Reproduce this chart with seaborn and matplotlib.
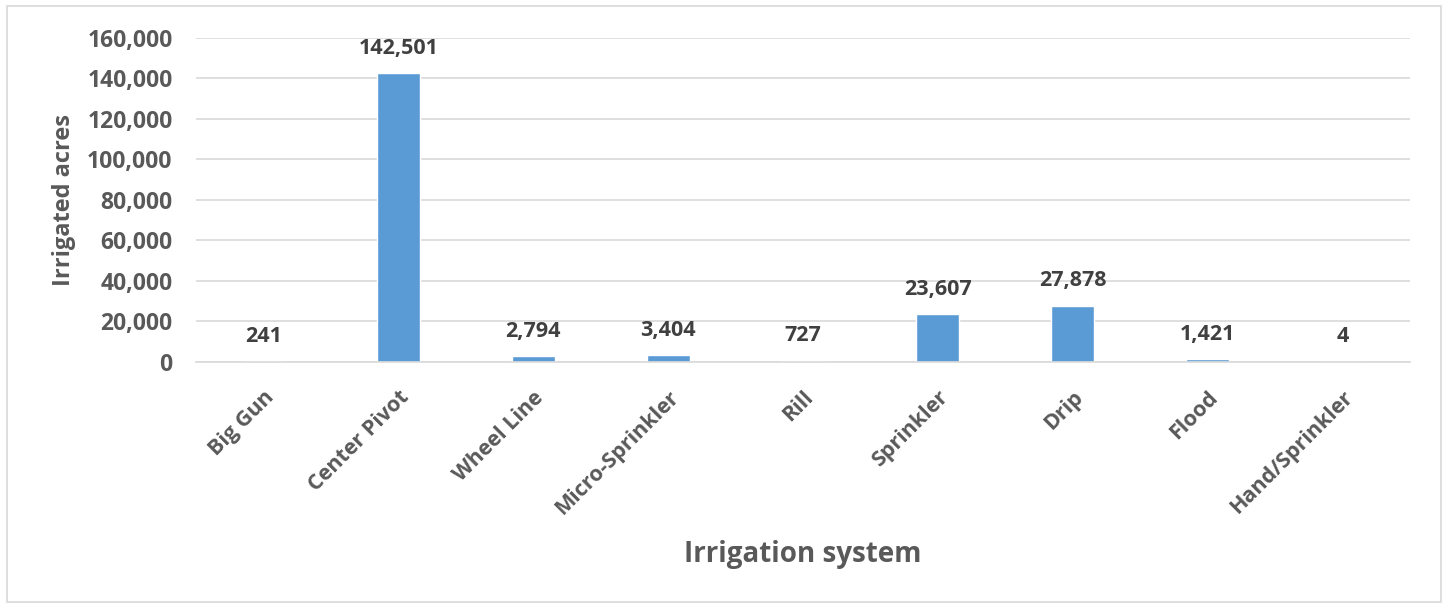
import matplotlib
matplotlib.use("Agg")
import matplotlib.pyplot as plt
import matplotlib.ticker as mticker
from matplotlib.patches import Rectangle
import seaborn as sns
import pandas as pd

systems = ["Big Gun", "Center Pivot", "Wheel Line", "Micro-Sprinkler", "Rill",
           "Sprinkler", "Drip", "Flood", "Hand/Sprinkler"]
acres = [241, 142501, 2794, 3404, 727, 23607, 27878, 1421, 4]

df = pd.DataFrame({"system": systems, "acres": acres})

sns.set_theme(style="white")
plt.rcParams["font.family"] = ["Open Sans", "DejaVu Sans"]
text_color = "#595959"

fig = plt.figure(figsize=(14.49, 6.04), dpi=100)
ax = fig.add_axes([0.1353, 0.4007, 0.8377, 0.5364])

sns.barplot(data=df, x="system", y="acres", color="#5b9bd5", saturation=1,
            width=0.32, ax=ax)

ax.set_ylim(0, 160000)
ax.set_xlim(-0.5, len(systems) - 0.5)
ax.yaxis.set_major_locator(mticker.MultipleLocator(20000))
ax.yaxis.set_major_formatter(mticker.FuncFormatter(lambda v, p: f"{int(v):,}"))
ax.grid(axis="y", color="#d9d9d9", linewidth=1.2)
ax.set_axisbelow(True)

for side in ["left", "right", "top"]:
    ax.spines[side].set_visible(False)
ax.spines["bottom"].set_color("#d9d9d9")
ax.spines["bottom"].set_linewidth(1.2)

ax.tick_params(axis="both", length=0)
ax.tick_params(axis="y", labelsize=16.5, labelcolor=text_color, pad=17)
for lbl in ax.get_yticklabels():
    lbl.set_fontweight("bold")

ax.set_xticks(range(len(systems)))
ax.set_xticklabels(systems, rotation=45, ha="right", rotation_mode="anchor",
                   fontsize=15.5, fontweight="bold", color=text_color)
ax.tick_params(axis="x", pad=18)

for i, v in enumerate(acres):
    ax.annotate(f"{v:,}", (i, v), xytext=(0, 18), textcoords="offset points",
                ha="center", va="center", fontsize=15.5, fontweight="bold",
                color="#404040")

ax.set_xlabel("Irrigation system", fontsize=20, fontweight="bold",
              color=text_color, labelpad=15)
ax.set_ylabel("Irrigated acres", fontsize=17, fontweight="bold",
              color=text_color, labelpad=8)

fig.patches.append(Rectangle((7 / 1449, 2 / 604), 1434 / 1449, 596 / 604,
                             transform=fig.transFigure, fill=False,
                             edgecolor="#d9d9d9", linewidth=1.2))

fig.savefig("out.png", dpi=100)
